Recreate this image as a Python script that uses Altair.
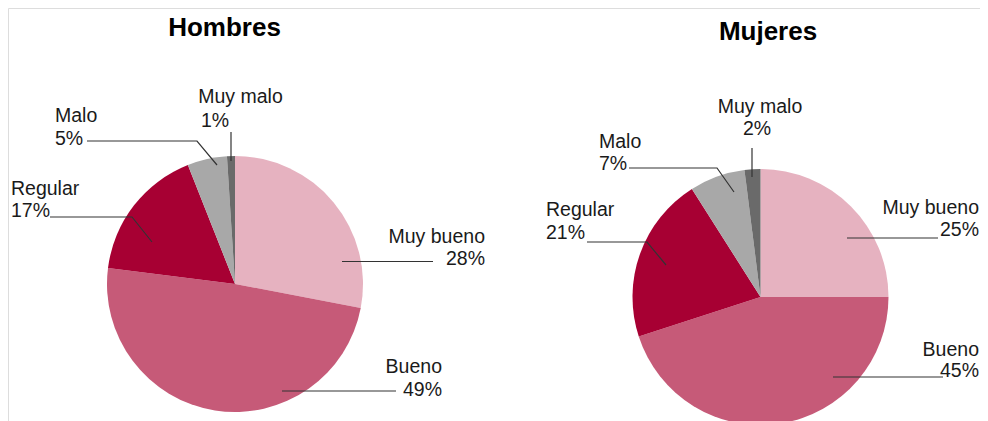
import math
import altair as alt
import pandas as pd

# ---- data ----
groups = ["Hombres", "Mujeres"]
categories = ["Muy bueno", "Bueno", "Regular", "Malo", "Muy malo"]
hombres_pct = [28, 49, 17, 5, 1]
mujeres_pct = [25, 45, 21, 7, 2]
colors = ["#E6B2C0", "#C65A78", "#A70033", "#A8A8A8", "#6A6A6A"]

# ---- layout (page pixel coordinates) ----
W, H = 972, 413
OFF = 8
R = 128
centers = {"Hombres": (235, 284), "Mujeres": (760.5, 297)}
titles_pos = {"Hombres": (224.5, 36), "Mujeres": (768, 40)}
# leader-line points, name text (x, baseline, align), pct text (x, baseline, align)
layout = {
    ("Hombres", "Muy bueno"): ([(342, 261.5), (433, 261.5)], (485, 243, "right"), (485, 265, "right")),
    ("Hombres", "Bueno"): ([(282, 391), (396, 391)], (442, 373, "right"), (442, 396, "right")),
    ("Hombres", "Regular"): ([(50, 217), (132, 217), (152, 242)], (11, 195, "left"), (11, 217, "left")),
    ("Hombres", "Malo"): ([(87, 141), (197, 141), (217, 165)], (55, 122, "left"), (55, 145, "left")),
    ("Hombres", "Muy malo"): ([(231, 132), (231, 161)], (240.5, 103, "center"), (215, 127, "center")),
    ("Mujeres", "Muy bueno"): ([(847, 238), (938, 238)], (979, 214, "right"), (979, 236, "right")),
    ("Mujeres", "Bueno"): ([(833, 377), (943, 377)], (979, 356, "right"), (979, 377, "right")),
    ("Mujeres", "Regular"): ([(587, 242), (647, 242), (666, 265)], (546, 216, "left"), (546, 239, "left")),
    ("Mujeres", "Malo"): ([(629, 168), (717, 168), (734, 192)], (599, 148, "left"), (599, 170, "left")),
    ("Mujeres", "Muy malo"): ([(752, 148), (752, 177)], (760, 113, "center"), (757, 135, "center")),
}

# ---- build tables ----
arc_rows, line_rows, text_rows = [], [], []
for g, vals in zip(groups, [hombres_pct, mujeres_pct]):
    total = sum(vals)
    cum = 0
    cx, cy = centers[g]
    for c, v in zip(categories, vals):
        t0 = 2 * math.pi * cum / total
        cum += v
        t1 = 2 * math.pi * cum / total
        arc_rows.append({"group": g, "cat": c, "t0": t0, "t1": t1,
                         "cx": cx - OFF, "cy": cy - OFF})
        pts, name_pos, pct_pos = layout[(g, c)]
        for i, (px, py) in enumerate(pts):
            line_rows.append({"id": f"{g}-{c}", "i": i, "x": px - OFF, "y": py - OFF})
        text_rows.append({"txt": c, "x": name_pos[0] - OFF, "y": name_pos[1] - OFF, "align": name_pos[2]})
        text_rows.append({"txt": f"{v}%", "x": pct_pos[0] - OFF, "y": pct_pos[1] - OFF, "align": pct_pos[2]})

title_rows = [{"txt": g, "x": titles_pos[g][0] - OFF, "y": titles_pos[g][1] - OFF} for g in groups]

arcs = pd.DataFrame(arc_rows)
lines = pd.DataFrame(line_rows)
texts = pd.DataFrame(text_rows)
tdf = pd.DataFrame(title_rows)

xs = alt.Scale(domain=[0, W], nice=False, zero=False)
ys = alt.Scale(domain=[0, H], nice=False, zero=False, reverse=True)
FONT = "Liberation Sans"

pies = alt.Chart(arcs).mark_arc(radius=R, clip=True).encode(
    x=alt.X("cx:Q", scale=xs, axis=None),
    y=alt.Y("cy:Q", scale=ys, axis=None),
    theta=alt.Theta("t0:Q", scale=None, stack=None),
    theta2="t1:Q",
    color=alt.Color("cat:N", scale=alt.Scale(domain=categories, range=colors), legend=None),
)

leaders = alt.Chart(lines).mark_line(color="#333333", strokeWidth=1.2).encode(
    x=alt.X("x:Q", scale=xs, axis=None),
    y=alt.Y("y:Q", scale=ys, axis=None),
    detail="id:N",
    order="i:Q",
)

def text_layer(align):
    return alt.Chart(texts).transform_filter(alt.datum.align == align).mark_text(
        align=align, baseline="alphabetic", font=FONT, fontSize=19.5, color="#1a1a1a"
    ).encode(
        x=alt.X("x:Q", scale=xs, axis=None),
        y=alt.Y("y:Q", scale=ys, axis=None),
        text="txt:N",
    )

titles = alt.Chart(tdf).mark_text(
    align="center", baseline="alphabetic", font=FONT, fontSize=26, fontWeight="bold", color="#000000"
).encode(
    x=alt.X("x:Q", scale=xs, axis=None),
    y=alt.Y("y:Q", scale=ys, axis=None),
    text="txt:N",
)

chart = alt.layer(
    pies, leaders, text_layer("left"), text_layer("right"), text_layer("center"), titles
).properties(
    width=W, height=H, padding=0, autosize=alt.AutoSizeParams(type="none")
).configure_view(strokeWidth=0, stroke="transparent").configure(background="white")

chart.save("out.html", embed_options={"renderer": "svg", "actions": False})
